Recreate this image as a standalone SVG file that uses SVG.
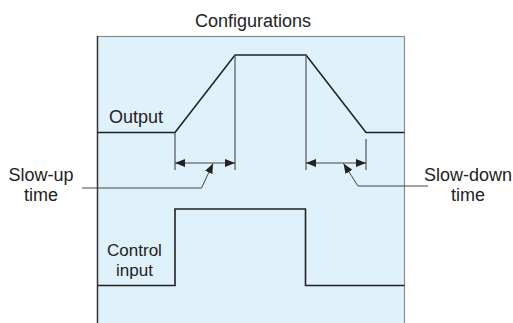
<svg xmlns="http://www.w3.org/2000/svg" width="513" height="323" viewBox="0 0 513 323">
<style>
text{font-family:"Liberation Sans",Arial,sans-serif;font-size:18px;fill:#222;}
.sig{fill:none;stroke:#222;stroke-width:1.6;stroke-linejoin:miter;}
.guide{fill:none;stroke:#555;stroke-width:1.2;}
.dim{fill:none;stroke:#444;stroke-width:1.2;}
.lead{fill:none;stroke:#444;stroke-width:1;}
</style>
<defs>
<marker id="ah" viewBox="0 0 10 8" refX="10" refY="4" markerWidth="10" markerHeight="8" markerUnits="userSpaceOnUse" orient="auto-start-reverse">
<path d="M0,0 L10,4 L0,8 Z" fill="#222"/>
</marker>
</defs>
<g id="panel">
<rect x="97.5" y="36.5" width="307" height="300" fill="#dff1fb" stroke="#8a8a8a" stroke-width="1.2"/>
<line x1="97.5" y1="36" x2="97.5" y2="323" stroke="#333" stroke-width="1.4"/>
</g>
<text id="title" x="253" y="27" text-anchor="middle">Configurations</text>
<g id="output">
<polyline class="sig" points="97.5,132.5 175,132.5 235,55 306,55 366,132.5 404.5,132.5"/>
<text x="109" y="123">Output</text>
</g>
<g id="control-input">
<polyline class="sig" points="97.5,285.5 175,285.5 175,209 305.5,209 305.5,285.5 404.5,285.5"/>
<text x="134.5" y="256" text-anchor="middle" style="font-size:17px">Control</text>
<text x="134.5" y="276" text-anchor="middle" style="font-size:17px">input</text>
</g>
<g id="connectors">
<line class="guide" x1="175" y1="132.5" x2="175" y2="170" stroke="#222"/>
<line class="guide" x1="235" y1="55" x2="235" y2="170" stroke="#777"/>
<line class="guide" x1="306" y1="55" x2="306" y2="170"/>
<line class="guide" x1="366" y1="139" x2="366" y2="170"/>
<line class="dim" x1="175" y1="163" x2="235" y2="163" marker-start="url(#ah)" marker-end="url(#ah)"/>
<line class="dim" x1="306" y1="163" x2="366" y2="163" marker-start="url(#ah)" marker-end="url(#ah)"/>
<polyline class="lead" points="82,188 201.5,188 213,163.5" marker-end="url(#ah)"/>
<polyline class="lead" points="428,186 358,186 343.5,163.5" marker-end="url(#ah)"/>
</g>
<g id="slow-up">
<text x="41" y="181" text-anchor="middle">Slow-up</text>
<text x="41" y="201" text-anchor="middle">time</text>
</g>
<g id="slow-down">
<text x="468" y="181" text-anchor="middle">Slow-down</text>
<text x="468" y="201" text-anchor="middle">time</text>
</g>
</svg>
